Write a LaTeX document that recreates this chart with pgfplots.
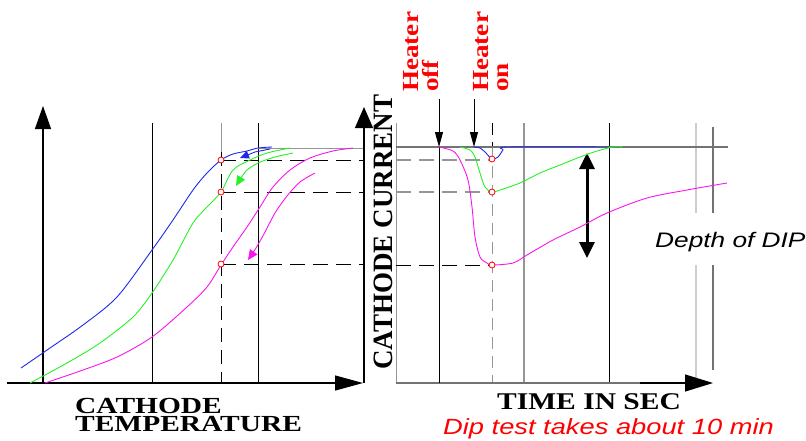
\documentclass[border=0pt]{standalone}
\usepackage{pgfplots}
\pgfplotsset{compat=1.18}
\usetikzlibrary{arrows.meta}
\usepackage{graphicx}
\usepackage{fontspec}
\setmainfont{Liberation Serif}
\newfontfamily\sansf{Liberation Sans}
\definecolor{cblue}{RGB}{30,40,235}
\definecolor{cgreen}{RGB}{40,240,40}
\definecolor{cmag}{RGB}{250,20,240}
\definecolor{gA}{RGB}{150,150,150}
\definecolor{gB}{RGB}{205,205,205}
\definecolor{gC}{RGB}{115,115,115}
\begin{document}
\begin{tikzpicture}
\begin{axis}[scale only axis, width=806pt, height=440pt,
  xmin=0, xmax=806, ymin=0, ymax=440, y dir=reverse,
  hide axis, clip=false]
% ---------- left panel frame ----------
\addplot[black, line width=1.2pt, -{Triangle[length=23pt,width=16pt]}] coordinates {(43,383) (43,106)};
\addplot[black, line width=1.2pt, -{Triangle[length=28pt,width=15pt]}] coordinates {(7,383) (363,383)};
\addplot[black, line width=1.2pt, -{Triangle[length=21pt,width=18pt]}] coordinates {(364,383) (364,107)};
\addplot[black, line width=1pt] coordinates {(152,123) (152,383)};
\addplot[black, line width=1pt] coordinates {(258,123) (258,383)};
\addplot[gA, line width=1pt] coordinates {(221,123) (221,152)};
\addplot[black, line width=1pt, dash pattern=on 14pt off 8pt] coordinates {(221,152) (221,383)};
\addplot[gA, line width=1pt] coordinates {(258,148) (363,148)};
\addplot[black, line width=1pt, dash pattern=on 15pt off 8pt] coordinates {(221,160) (363,160)};
\addplot[black, line width=1pt, dash pattern=on 15pt off 8pt] coordinates {(221,192) (363,192)};
\addplot[black, line width=1pt, dash pattern=on 15pt off 8pt] coordinates {(221,264) (363,264)};
% ---------- right panel frame ----------
\addplot[gA, line width=1pt] coordinates {(396,123) (396,383)};
\addplot[black, line width=1pt, dash pattern=on 12pt off 7pt] coordinates {(492,123) (492,147)};
\addplot[gA, line width=1pt, dash pattern=on 12pt off 7pt] coordinates {(492,147) (492,383)};
\addplot[gA, line width=1.2pt] coordinates {(524,123) (524,383)};
\addplot[black, line width=1pt] coordinates {(609,123) (609,383)};
\addplot[gB, line width=1.2pt] coordinates {(696,123) (696,383)};
\addplot[gC, line width=1.2pt] coordinates {(713,127) (713,370)};
\addplot[gC, line width=1.2pt] coordinates {(396,147) (728,147)};
\addplot[gC, line width=1.2pt] coordinates {(396,383) (690,383)};
\addplot[black, line width=1.2pt, -{Triangle[length=28pt,width=17pt]}] coordinates {(640,383) (713,383)};
\addplot[black, line width=1pt] coordinates {(439,147) (439,383)};
\addplot[black, line width=1pt, -{Triangle[length=15pt,width=8pt]}] coordinates {(439,99) (439,147)};
\addplot[black, line width=1pt, -{Triangle[length=15pt,width=8pt]}] coordinates {(474,99) (474,147)};
\addplot[gA, line width=1.2pt, dash pattern=on 15pt off 8pt] coordinates {(396,160) (492,160)};
\addplot[gA, line width=1.2pt, dash pattern=on 15pt off 8pt] coordinates {(396,192) (492,192)};
\addplot[black, line width=1pt, dash pattern=on 15pt off 8pt] coordinates {(396,265) (492,265)};
\addplot[black, line width=3pt, {Triangle[length=16pt,width=15pt]}-{Triangle[length=16pt,width=15pt]}] coordinates {(587,153) (587,258)};
% ---------- left curves ----------
\addplot[cblue, line width=0.9pt, smooth] coordinates {(21,368) (50,348) (83,325) (117,297) (152,250) (173,220) (193,190) (207,173) (221,160) (233,154) (247,151) (258,148) (272,147)};
\addplot[cblue, line width=0.9pt, -{Triangle[length=9pt,width=8pt]}] coordinates {(270,149) (255,152) (240,158)};
\addplot[cgreen, line width=0.9pt, smooth] coordinates {(30,383) (67,363) (100,343) (133,317) (152,293) (173,260) (193,223) (207,207) (221,192) (233,170) (250,160) (267,153) (290,148)};
\addplot[cgreen, line width=0.9pt, smooth, -{Triangle[length=10pt,width=9pt]}] coordinates {(293,153) (275,157) (258,163) (246,171) (236,186)};
\addplot[cmag, line width=0.9pt, smooth] coordinates {(45,383) (83,370) (117,357) (152,337) (187,307) (207,287) (221,265) (233,247) (247,227) (260,207) (273,187) (290,170) (310,158) (333,151) (353,148)};
\addplot[cmag, line width=0.9pt, smooth, -{Triangle[length=10pt,width=9pt]}] coordinates {(315,173) (300,182) (287,196) (275,213) (265,232) (256,248) (248,260)};
% ---------- right curves ----------
\addplot[cblue, line width=0.9pt, smooth] coordinates {(474,147) (480,148) (485,152) (492,159) (498,157) (503,150) (508,147) (609,147)};
\addplot[cgreen, line width=0.9pt, smooth] coordinates {(460,147) (470,150) (475,157) (480,173) (485,187) (492,192) (500,190) (520,183) (540,173) (560,165) (580,157) (597,151) (613,147) (623,147)};
\addplot[cmag, line width=0.9pt, smooth] coordinates {(439,147) (453,151) (460,160) (468,180) (472,207) (475,237) (480,257) (487,263) (492,265) (513,263) (527,255) (553,240) (580,227) (607,213) (647,198) (687,190) (727,183)};
% ---------- markers ----------
\addplot[only marks, mark=*, mark size=3pt, draw=red, fill=white, line width=0.8pt] coordinates {(221,160) (221,192) (221,264) (492,159) (492,192) (492,265)};
% ---------- texts ----------
\fill[white] (axis cs:650,213) rectangle (axis cs:806,265);
\node[anchor=base west, inner sep=0] at (axis cs:655,247) {\sansf\itshape\fontsize{21}{21}\selectfont\scalebox{1.25}[1]{Depth of DIP}};
\node[anchor=north west, inner sep=0, align=left, font=\fontsize{23}{18}\selectfont\bfseries] at (axis cs:75,398.5) {\scalebox{1.28}[1]{CATHODE}\\\scalebox{1.28}[1]{TEMPERATURE}};
\node[anchor=base west, inner sep=0] at (axis cs:497,409) {\fontsize{24}{24}\selectfont\bfseries\scalebox{1.23}[1]{TIME IN SEC}};
\node[anchor=base west, inner sep=0, text=red] at (axis cs:443,434) {\sansf\itshape\fontsize{22}{22}\selectfont\scalebox{1.24}[1]{Dip test takes about 10 min}};
\node[anchor=base west, inner sep=0, rotate=90] at (axis cs:392,370) {\fontsize{28}{28}\selectfont\bfseries\scalebox{0.965}[1]{CATHODE CURRENT}};
\node[anchor=base west, inner sep=0, rotate=90, text=red] at (axis cs:418,92) {\fontsize{23}{23}\selectfont\bfseries\scalebox{1.18}[1]{Heater}};
\node[anchor=base west, inner sep=0, rotate=90, text=red] at (axis cs:438,92) {\fontsize{23}{23}\selectfont\bfseries\scalebox{1.18}[1]{off}};
\node[anchor=base west, inner sep=0, rotate=90, text=red] at (axis cs:488,92) {\fontsize{23}{23}\selectfont\bfseries\scalebox{1.18}[1]{Heater}};
\node[anchor=base west, inner sep=0, rotate=90, text=red] at (axis cs:508,92) {\fontsize{23}{23}\selectfont\bfseries\scalebox{1.18}[1]{on}};
\end{axis}
\pgfresetboundingbox
\useasboundingbox (current axis.south west) rectangle (current axis.north east);
\end{tikzpicture}
\end{document}
